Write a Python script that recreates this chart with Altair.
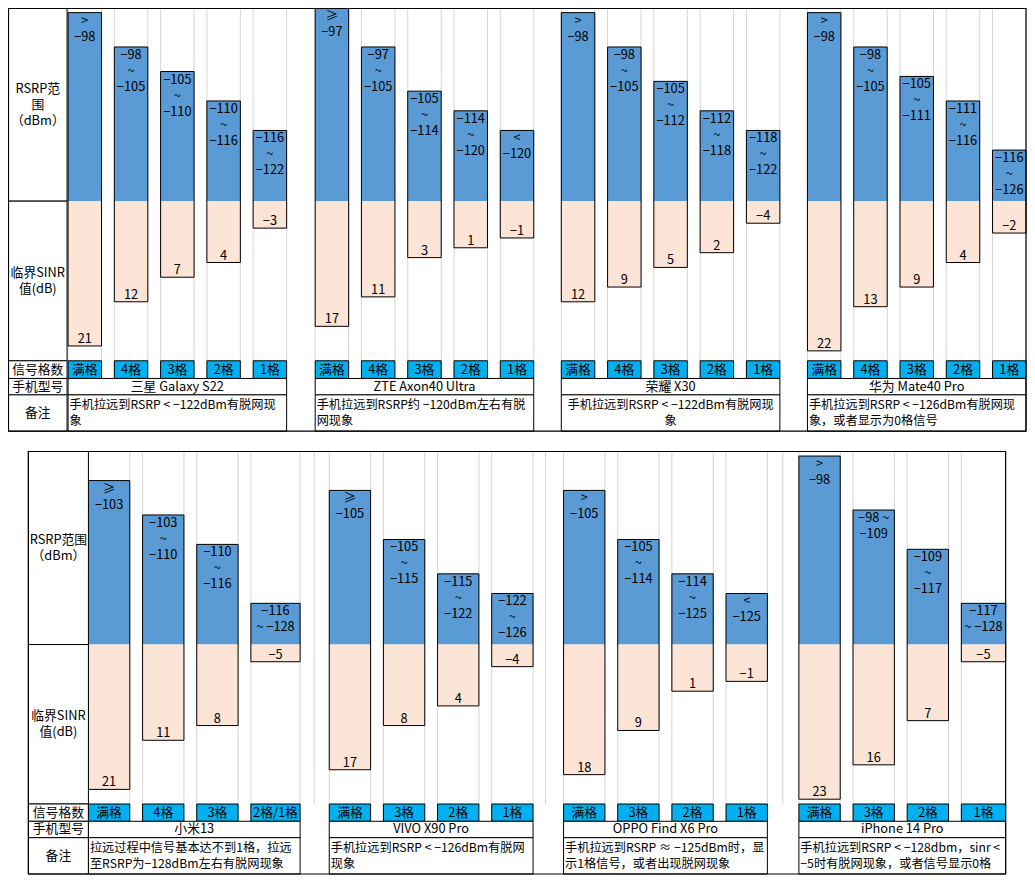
import altair as alt
import pandas as pd

# ---------------- data ----------------
phones = ["三星 Galaxy S22", "ZTE Axon40 Ultra", "荣耀 X30", "华为 Mate40 Pro",
          "小米13", "VIVO X90 Pro", "OPPO Find X6 Pro", "iPhone 14 Pro"]

signal_levels = [
    ["满格", "4格", "3格", "2格", "1格"],
    ["满格", "4格", "3格", "2格", "1格"],
    ["满格", "4格", "3格", "2格", "1格"],
    ["满格", "4格", "3格", "2格", "1格"],
    ["满格", "4格", "3格", "2格/1格"],
    ["满格", "3格", "2格", "1格"],
    ["满格", "3格", "2格", "1格"],
    ["满格", "3格", "2格", "1格"],
]

rsrp_labels = [
    [">\n−98", "−98\n~\n−105", "−105\n~\n−110", "−110\n~\n−116", "−116\n~\n−122"],
    ["≥\n−97", "−97\n~\n−105", "−105\n~\n−114", "−114\n~\n−120", "<\n−120"],
    [">\n−98", "−98\n~\n−105", "−105\n~\n−112", "−112\n~\n−118", "−118\n~\n−122"],
    [">\n−98", "−98\n~\n−105", "−105\n~\n−111", "−111\n~\n−116", "−116\n~\n−126"],
    ["≥\n−103", "−103\n~\n−110", "−110\n~\n−116", "−116\n~ −128"],
    ["≥\n−105", "−105\n~\n−115", "−115\n~\n−122", "−122\n~\n−126"],
    [">\n−105", "−105\n~\n−114", "−114\n~\n−125", "<\n−125"],
    [">\n−98", "−98 ~\n−109", "−109\n~\n−117", "−117\n~ −128"],
]

# RSRP level (dBm) reached by each blue bar
rsrp_bar = [
    [-98, -105, -110, -116, -122],
    [-97, -105, -114, -118, -122],
    [-98, -105, -112, -118, -122],
    [-98, -105, -111, -116, -126],
    [-103, -110, -116, -128],
    [-105, -115, -122, -126],
    [-105, -115, -122, -126],
    [-98, -109, -117, -128],
]

sinr_values = [
    [21, 12, 7, 4, -3],
    [17, 11, 3, 1, -1],
    [12, 9, 5, 2, -4],
    [22, 13, 9, 4, -2],
    [21, 11, 8, -5],
    [17, 8, 4, -4],
    [18, 9, 1, -1],
    [23, 16, 7, -5],
]

notes = [
    "手机拉远到RSRP < −122dBm有脱网现\n象",
    "手机拉远到RSRP约 −120dBm左右有脱\n网现象",
    "手机拉远到RSRP < −122dBm有脱网现\n象",
    "手机拉远到RSRP < −126dBm有脱网现\n象，或者显示为0格信号",
    "拉远过程中信号基本达不到1格，拉远\n至RSRP为−128dBm左右有脱网现象",
    "手机拉远到RSRP < −126dBm有脱网\n现象",
    "手机拉远到RSRP ≈ −125dBm时，显\n示1格信号，或者出现脱网现象",
    "手机拉远到RSRP < −128dbm，sinr <\n−5时有脱网现象，或者信号显示0格",
]
note_centered = [False, False, True, False, False, False, False, False]

row_labels = [
    ["RSRP范\n围\n（dBm）", "临界SINR\n值(dB)", "信号格数", "手机型号", "备注"],
    ["RSRP范围\n（dBm）", "临界SINR\n值(dB)", "信号格数", "手机型号", "备注"],
]

# ---------------- layout (sheet units) ----------------
W, H = 1019, 867
SHEET_W, SHEET_H = 1035, 883
RSRP_ZERO, SINR_ZERO, PX_PER_DB = -136.4, -8.5, 5.0
FONT = "Noto Sans CJK SC"
FS = 12.8
FS_NOTE = 12.2
LH = 16.0                      # line height, px
LH_SHEET = LH * SHEET_H / H    # line height in sheet units

BLOCKS = [
    dict(x0=0.5, x1=1034.0, y0=0.5, lab=60.0, base=196.7,
         rows=[359.3, 377.3, 394.0, 431.0],
         starts=[61.0, 312.0, 562.0, 812.0], step=47.0,
         widths=[[34] * 5, [34] * 5, [34] * 5, [34] * 5], extra=[]),
    dict(x0=20.7, x1=1013.3, y0=451.7, lab=81.7, base=648.3,
         rows=[810.7, 828.3, 845.0, 882.0],
         starts=[81.7, 326.3, 564.3, 803.3], step=55.0,
         widths=[[42, 42, 42, 50], [42] * 4, [42] * 4, [42, 42, 42, 45]],
         extra=[311.0, 546.0, 787.0]),
]


def centered_y(yc, text):
    n = text.count("\n") + 1
    return yc - (n - 1) * LH_SHEET / 2


bars, grid, cells, frames, ctext, ltext = [], [], [], [], [], []
for b, blk in enumerate(BLOCKS):
    ys = [blk["y0"], blk["base"]] + blk["rows"]
    for i in range(5):
        cells.append(dict(x0=blk["x0"], x1=blk["lab"], y0=ys[i], y1=ys[i + 1], fill="#FFFFFF"))
        t = row_labels[b][i]
        ctext.append(dict(x=(blk["x0"] + blk["lab"]) / 2,
                          y=centered_y((ys[i] + ys[i + 1]) / 2, t), text=t, fs=FS))
    frames.append(dict(x0=blk["x0"], x1=blk["x1"], y0=blk["y0"], y1=blk["rows"][-1]))
    for gx in blk["extra"]:
        grid.append(dict(x=gx, y0=blk["y0"], y1=blk["rows"][0]))
    for k in range(4):
        pi = b * 4 + k
        n = len(signal_levels[pi])
        px0 = blk["starts"][k]
        last = None
        for j in range(n):
            x0 = px0 + j * blk["step"]
            x1 = x0 + blk["widths"][k][j]
            last = x1
            bars.append(dict(phone=phones[pi], level=signal_levels[pi][j],
                             rsrp=rsrp_bar[pi][j], sinr=sinr_values[pi][j],
                             rsrp_text=rsrp_labels[pi][j],
                             sinr_text=str(sinr_values[pi][j]).replace("-", "−"),
                             x0=x0, x1=x1, base=blk["base"]))
            for gx in (x0, x1):
                grid.append(dict(x=gx, y0=blk["y0"], y1=blk["rows"][0]))
            cells.append(dict(x0=x0, x1=x1, y0=blk["rows"][0], y1=blk["rows"][1], fill="#00B0F0"))
            ctext.append(dict(x=(x0 + x1) / 2, y=(blk["rows"][0] + blk["rows"][1]) / 2,
                              text=signal_levels[pi][j], fs=FS))
        cells.append(dict(x0=px0, x1=last, y0=blk["rows"][1], y1=blk["rows"][2], fill="#FFFFFF"))
        ctext.append(dict(x=(px0 + last) / 2, y=(blk["rows"][1] + blk["rows"][2]) / 2,
                          text=phones[pi], fs=FS))
        cells.append(dict(x0=px0, x1=last, y0=blk["rows"][2], y1=blk["rows"][3], fill="#FFFFFF"))
        ny = centered_y((blk["rows"][2] + blk["rows"][3]) / 2, notes[pi])
        if note_centered[pi]:
            ctext.append(dict(x=(px0 + last) / 2, y=ny, text=notes[pi], fs=FS_NOTE))
        else:
            ltext.append(dict(x=px0 + 1.5, y=ny, text=notes[pi], fs=FS_NOTE))

bars_df = pd.DataFrame(bars)
grid_df = pd.DataFrame(grid)
cells_df = pd.DataFrame(cells)
frames_df = pd.DataFrame(frames)
ctext_df = pd.DataFrame(ctext)
ltext_df = pd.DataFrame(ltext)

xs = alt.Scale(domain=[0, SHEET_W], range=[0, W], nice=False, zero=False)
ys_ = alt.Scale(domain=[0, SHEET_H], range=[0, H], nice=False, zero=False)


def X(f):
    return alt.X(f"{f}:Q", scale=xs, axis=None)


def Y(f):
    return alt.Y(f"{f}:Q", scale=ys_, axis=None)


gridlines = alt.Chart(grid_df).mark_rule(color="#D4D4D4", strokeWidth=1).encode(
    x=X("x"), y=Y("y0"), y2="y1")

bar_base = alt.Chart(bars_df).transform_calculate(
    ytop=f"datum.base - {PX_PER_DB} * (datum.rsrp - ({RSRP_ZERO}))",
    ybot=f"datum.base + {PX_PER_DB} * (datum.sinr - ({SINR_ZERO}))",
    xc="(datum.x0 + datum.x1) / 2",
)

blue = bar_base.mark_rect(fill="#5B9BD5").encode(x=X("x0"), x2="x1", y=Y("ytop"), y2="base")
peach = bar_base.mark_rect(fill="#FCE4D6").encode(x=X("x0"), x2="x1", y=Y("base"), y2="ybot")
outline = bar_base.mark_rect(fillOpacity=0, stroke="black", strokeWidth=1).encode(
    x=X("x0"), x2="x1", y=Y("ytop"), y2="ybot")

rsrp_txt = bar_base.mark_text(baseline="top", dy=2, lineBreak="\n", lineHeight=LH,
                              font=FONT, fontSize=FS, color="black").encode(
    x=X("xc"), y=Y("ytop"), text="rsrp_text:N")
sinr_txt = bar_base.mark_text(baseline="bottom", dy=0, font=FONT, fontSize=FS,
                              color="black").encode(
    x=X("xc"), y=Y("ybot"), text="sinr_text:N")

cell_rects = alt.Chart(cells_df).mark_rect(stroke="black", strokeWidth=1).encode(
    x=X("x0"), x2="x1", y=Y("y0"), y2="y1", fill=alt.Fill("fill:N", scale=None))
frame_rects = alt.Chart(frames_df).mark_rect(fillOpacity=0, stroke="black", strokeWidth=1.2).encode(
    x=X("x0"), x2="x1", y=Y("y0"), y2="y1")

center_txt = alt.Chart(ctext_df).mark_text(align="center", baseline="middle", lineBreak="\n",
                                           lineHeight=LH, font=FONT,
                                           color="black").encode(
    x=X("x"), y=Y("y"), text="text:N", size=alt.Size("fs:Q", scale=None))
left_txt = alt.Chart(ltext_df).mark_text(align="left", baseline="middle", lineBreak="\n",
                                         lineHeight=LH, font=FONT,
                                         color="black").encode(
    x=X("x"), y=Y("y"), text="text:N", size=alt.Size("fs:Q", scale=None))

chart = alt.layer(
    gridlines, blue, peach, outline, cell_rects, frame_rects,
    rsrp_txt, sinr_txt, center_txt, left_txt
).properties(
    width=W, height=H, padding=0,
    autosize=alt.AutoSizeParams(type="none"),
    background="white",
).configure_view(stroke=None)

chart.save("out.html", embed_options={"renderer": "svg", "actions": False})
